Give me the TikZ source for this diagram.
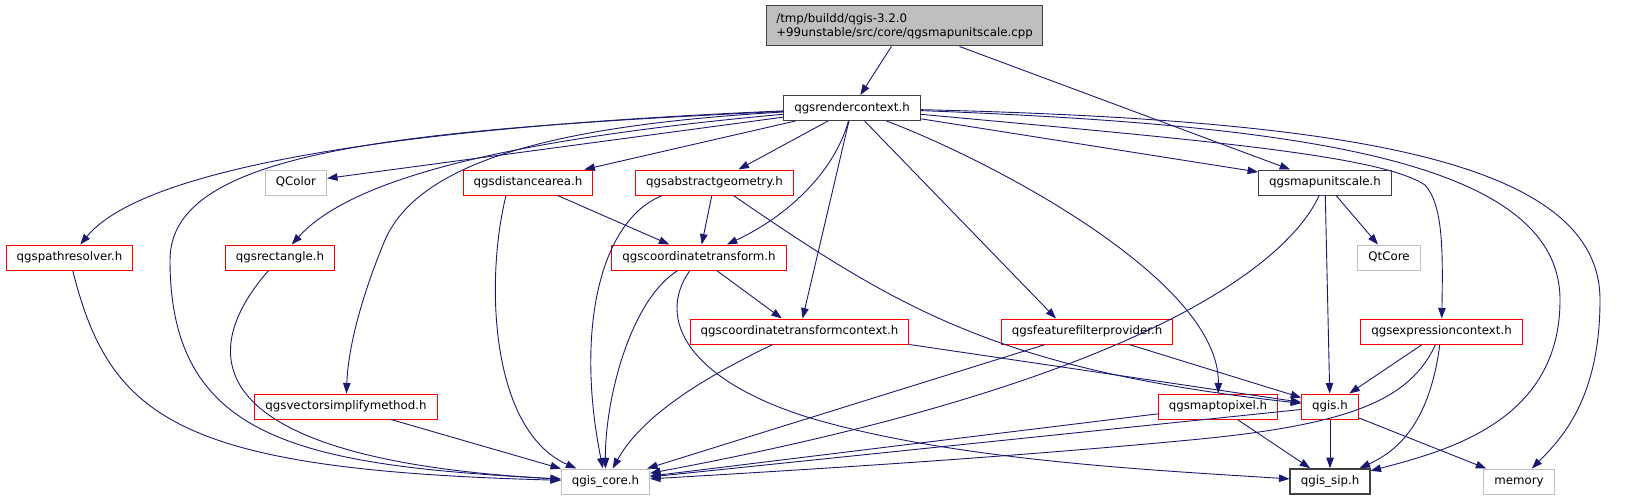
\documentclass[tikz,border=0pt]{standalone}
\usepackage{fontspec}
\setmainfont{DejaVu Sans}
\usetikzlibrary{positioning, arrows.meta}

\definecolor{edgeblue}{HTML}{191970}
\definecolor{rootfill}{HTML}{BFBFBF}
\definecolor{rootline}{HTML}{404040}
\definecolor{greyline}{HTML}{BFBFBF}

\begin{document}
\begin{tikzpicture}[x=1pt, y=-1pt,
    font=\fontsize{11.8}{14.5}\selectfont,
    box/.style={rectangle, draw=rootline, line width=1pt, fill=white, inner xsep=10.5pt, inner ysep=0pt, minimum height=25pt, text height=9pt, text depth=2.6pt},
    redbox/.style={box, draw=red},
    extbox/.style={box, draw=greyline},
    rootbox/.style={rectangle, draw=rootline, line width=1pt, fill=rootfill, align=left, inner xsep=10pt, minimum height=40pt},
    arrow/.style={-{Triangle[length=10.5pt, width=7.5pt]}, draw=edgeblue, line width=0.9pt}
  ]
    \useasboundingbox (0,0) rectangle (1648,500);

    % Nodes
    \node[rootbox] (src) at (904.5,26) {/tmp/buildd/qgis-3.2.0\\+99unstable/src/core/qgsmapunitscale.cpp};
    \node[box] (rctx) at (852,108) {qgsrendercontext.h};

    \node[extbox] (qcolor) at (296,182.5) {QColor};
    \node[redbox] (dist) at (528,182.5) {qgsdistancearea.h};
    \node[redbox] (absgeom) at (714.5,182.5) {qgsabstractgeometry.h};
    \node[box] (unitscale) at (1325,182.5) {qgsmapunitscale.h};

    \node[redbox] (pathres) at (69.5,257.5) {qgspathresolver.h};
    \node[redbox] (rect) at (280,257.5) {qgsrectangle.h};
    \node[redbox] (ct) at (699,257.5) {qgscoordinatetransform.h};
    \node[extbox] (qtcore) at (1389,257.5) {QtCore};

    \node[redbox] (ctctx) at (799.5,331.5) {qgscoordinatetransformcontext.h};
    \node[redbox] (filter) at (1087,331.5) {qgsfeaturefilterprovider.h};
    \node[redbox] (exprctx) at (1441.5,331.5) {qgsexpressioncontext.h};

    \node[redbox] (simplify) at (346,406.5) {qgsvectorsimplifymethod.h};
    \node[redbox] (m2p) at (1218,406.5) {qgsmaptopixel.h};
    \node[redbox] (qgis) at (1330,406.5) {qgis.h};

    \node[extbox] (core) at (605.5,481.5) {qgis\_core.h};
    \node[box, line width=1.6pt] (sip) at (1330,481.5) {qgis\_sip.h};
    \node[extbox] (memory) at (1519,481.5) {memory};

    % Arrows
    \draw[arrow] (src) -- (rctx);
    \draw[arrow] (src) -- (unitscale);

    \draw[arrow] (rctx) .. controls (450,125) and (150,160) .. (pathres);
    \draw[arrow] (rctx) .. controls (400,130) and (170,150) .. (170,260) .. controls (170,440) and (300,465) .. (core);
    \draw[arrow] (rctx) -- (qcolor);
    \draw[arrow] (rctx) .. controls (500,140) and (350,180) .. (rect);
    \draw[arrow] (rctx) .. controls (560,125) and (420,160) .. (385,240) .. controls (360,300) and (348,350) .. (simplify);
    \draw[arrow] (rctx) -- ([xshift=-9pt]dist.north east);
    \draw[arrow] (rctx) -- (absgeom);
    \draw[arrow] (rctx) .. controls (835,170) and (790,215) .. (ct);
    \draw[arrow] (rctx) -- (ctctx);
    \draw[arrow] (rctx) -- ([xshift=-31pt]filter.north);
    \draw[arrow] (rctx) .. controls (990,160) and (1220,280) .. (m2p);
    \draw[arrow] (rctx) -- (unitscale);
    \draw[arrow] (rctx) .. controls (1200,140) and (1380,155) .. (1425,185) .. controls (1443,205) and (1443,250) .. (exprctx);
    \draw[arrow] (rctx) .. controls (1300,125) and (1560,160) .. (1560,300) .. controls (1560,420) and (1450,450) .. (sip);
    \draw[arrow] (rctx) .. controls (1350,120) and (1600,160) .. (1600,300) .. controls (1600,400) and (1560,440) .. (memory);

    \draw[arrow] (unitscale) .. controls (1290,260) and (1150,380) .. (core);
    \draw[arrow] (unitscale) -- (qgis);
    \draw[arrow] (unitscale) -- (qtcore);

    \draw[arrow] ([xshift=-22pt]dist.south) .. controls (485,280) and (490,430) .. (core);
    \draw[arrow] (dist) -- (ct);

    \draw[arrow] ([xshift=-52pt]absgeom.south) .. controls (600,220) and (575,330) .. (core);
    \draw[arrow] (absgeom) -- (ct);
    \draw[arrow] (absgeom) .. controls (900,310) and (1000,370) .. (qgis);

    \draw[arrow] (ct) .. controls (630,300) and (605,400) .. (core);
    \draw[arrow] (ct) -- (ctctx);
    \draw[arrow] (ct) .. controls (655,320) and (690,380) .. (807,417) .. controls (950,460) and (1150,470) .. (sip);

    \draw[arrow] (ctctx) .. controls (720,370) and (645,410) .. (core);
    \draw[arrow] (ctctx.south east) -- (qgis);

    \draw[arrow] (filter) -- (core);
    \draw[arrow] (filter) -- (qgis);

    \draw[arrow] (exprctx) -- (qgis);
    \draw[arrow] (exprctx) .. controls (1410,400) and (1350,425) .. (1190,440) .. controls (1000,458) and (800,470) .. (core);
    \draw[arrow] (exprctx) .. controls (1430,420) and (1400,450) .. (sip);

    \draw[arrow] (m2p) -- (core);
    \draw[arrow] (m2p) -- (sip);

    \draw[arrow] (qgis) -- (core);
    \draw[arrow] (qgis) -- (sip);
    \draw[arrow] (qgis) -- (memory);

    \draw[arrow] (pathres) .. controls (110,420) and (180,470) .. (core);
    \draw[arrow] (rect) .. controls (190,360) and (210,460) .. (core);
    \draw[arrow] (simplify) -- (core);
\end{tikzpicture}
\end{document}
